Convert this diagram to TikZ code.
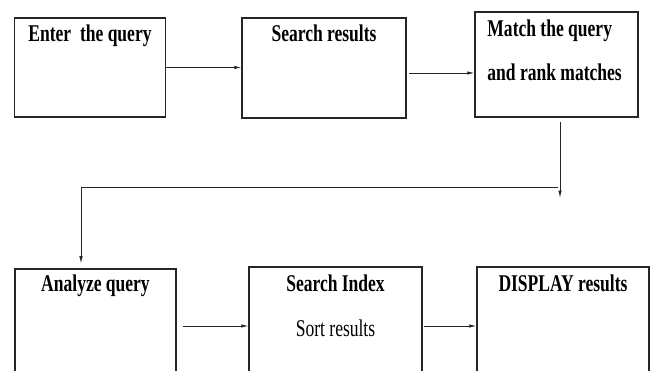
\documentclass[tikz,border=0pt]{standalone}
\usepackage{fontspec}
\setmainfont[FakeStretch=0.73]{Liberation Serif}
\usepackage{tikz}
\usetikzlibrary{arrows.meta,calc,positioning}

\begin{document}
\begin{tikzpicture}[
    x=1pt, y=1pt,
    box/.style={draw=black!85, line width=1.5pt, rectangle, inner sep=0},
    heading/.style={anchor=base, inner sep=0, font=\fontsize{24}{24}\selectfont\bfseries},
    plain/.style={anchor=base, inner sep=0, font=\fontsize{24}{24}\selectfont},
    link/.style={draw=black!85, line width=0.8pt},
    arrow/.style={link, -{Latex[length=7pt,width=3.5pt]}}]
\useasboundingbox (0,0) rectangle (657,-371);
\clip (0,0) rectangle (657,-371);

\node[box, minimum width=151, minimum height=99]  (enter)   at (90,-67.5)    {};
\node[box, minimum width=164, minimum height=100] (search)  at (324,-68)     {};
\node[box, minimum width=163, minimum height=105] (match)   at (556.5,-64.5) {};
\node[box, minimum width=161, minimum height=140] (analyze) at (95.5,-339)   {};
\node[box, minimum width=173, minimum height=140] (index)   at (335.5,-337)  {};
\node[box, minimum width=172, minimum height=140] (display) at (563,-337)    {};

\node[heading] (enterT)   at ([yshift=-24pt]enter.north)   {Enter\ \ the query};
\node[heading] (searchT)  at ([yshift=-24pt]search.north)  {Search results};
\node[heading, anchor=base west] (matchT)  at ([xshift=13pt,yshift=-25pt]match.north west) {Match the query};
\node[heading, anchor=base west] (rankT)   at ([yshift=-44pt]matchT.base west) {and rank matches};
\node[heading] (analyzeT) at ([yshift=-23pt]analyze.north) {Analyze query};
\node[heading] (indexT)   at ([yshift=-25.5pt]index.north) {Search Index};
\node[plain]   (sortT)    at ([yshift=-44.5pt]indexT.base) {Sort results};
\node[heading] (displayT) at ([yshift=-25pt]display.north) {DISPLAY results};

\draw[arrow] (enter.east) -- (enter.east -| search.west);
\draw[arrow] ([xshift=2pt,yshift=-5pt]search.east) -- ([yshift=-5pt]search.east -| match.west);

\coordinate (drop)  at ([xshift=3.5pt,yshift=-80pt]match.south);
\coordinate (turnR) at ([xshift=-2pt,yshift=10pt]drop);
\coordinate (turnL) at ([xshift=-14.5pt]analyze.north |- turnR);
\draw[arrow] ([xshift=3.5pt,yshift=-4pt]match.south) -- (drop);
\draw[arrow] (turnR) -- (turnL) -- ([yshift=5pt]turnL |- analyze.north);

\draw[arrow] ([xshift=6pt,yshift=13pt]analyze.east) -- ([yshift=13pt]analyze.east -| index.west);
\draw[arrow] ([xshift=1pt,yshift=11pt]index.east) -- ([yshift=11pt]index.east -| display.west);

\end{tikzpicture}
\end{document}
